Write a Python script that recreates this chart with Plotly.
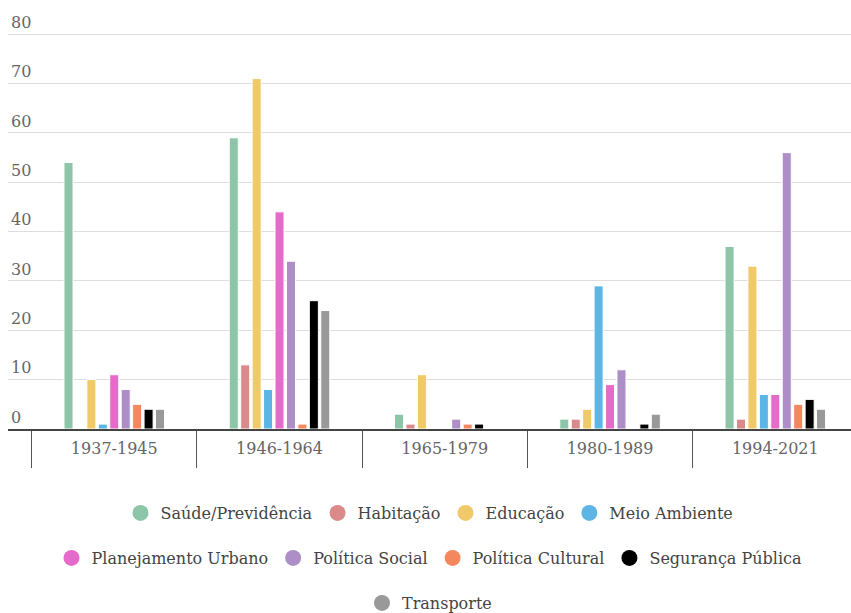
import plotly.graph_objects as go

# Periods on the x axis
periods = ["1937-1945", "1946-1964", "1965-1979", "1980-1989", "1994-2021"]

# Count of items per policy area in each period
saude = [54, 59, 3, 2, 37]
habitacao = [0, 13, 1, 2, 2]
educacao = [10, 71, 11, 4, 33]
meio_ambiente = [1, 8, 0, 29, 7]
planejamento = [11, 44, 0, 9, 7]
politica_social = [8, 34, 2, 12, 56]
politica_cultural = [5, 1, 1, 0, 5]
seguranca = [4, 26, 1, 1, 6]
transporte = [4, 24, 0, 3, 4]

series_names = [
    "Saúde/Previdência", "Habitação", "Educação", "Meio Ambiente",
    "Planejamento Urbano", "Política Social", "Política Cultural",
    "Segurança Pública", "Transporte",
]
series_values = [
    saude, habitacao, educacao, meio_ambiente, planejamento,
    politica_social, politica_cultural, seguranca, transporte,
]
colors = [
    "#8cc5a7", "#da8a8b", "#f0ca68", "#5cb5e5", "#e46bc9",
    "#ad8ec6", "#f4875e", "#000000", "#999999",
]
# legend row for each series
legend_rows = ["legend"] * 4 + ["legend2"] * 4 + ["legend3"]

y_ticks = [0, 10, 20, 30, 40, 50, 60, 70, 80]

FONT = "DejaVu Serif"

fig = go.Figure()
for name, vals, col in zip(series_names, series_values, colors):
    fig.add_trace(go.Bar(
        x=periods, y=vals, name=name,
        marker=dict(color=col, line=dict(color="white", width=1)),
        showlegend=False,
    ))

# circular legend markers
for name, col, lg in zip(series_names, colors, legend_rows):
    fig.add_trace(go.Scatter(
        x=[None], y=[None], mode="markers", name=name,
        marker=dict(color=col, size=20, symbol="circle"),
        legend=lg, showlegend=True,
    ))

# plot area spans y pixels 12..429; legend rows centred at 513, 558, 603
PLOT_TOP, PLOT_BOTTOM = 12, 429
def paper_y(px):
    return (PLOT_BOTTOM - px) / (PLOT_BOTTOM - PLOT_TOP)

legend_common = dict(
    orientation="h", xanchor="center", x=0.5, yanchor="middle",
    font=dict(family=FONT, size=16, color="#444"),
    bgcolor="rgba(0,0,0,0)", itemsizing="trace",
)

fig.update_layout(
    width=851, height=613,
    margin=dict(l=8, r=0, t=PLOT_TOP, b=613 - PLOT_BOTTOM, autoexpand=False),
    paper_bgcolor="white", plot_bgcolor="white",
    barmode="group", bargap=0.377, bargroupgap=0.21,
    font=dict(family=FONT, size=16, color="#666"),
    legend=dict(y=paper_y(513), **legend_common),
    legend2=dict(y=paper_y(558), **legend_common),
    legend3=dict(y=paper_y(603), **legend_common),
    xaxis=dict(
        type="category", range=[-0.643, 4.458],
        showline=True, linecolor="#444", linewidth=2,
        tickson="boundaries", ticks="outside", ticklen=37,
        tickcolor="#555", tickwidth=1,
        ticklabelstandoff=4,
        tickfont=dict(family=FONT, size=16, color="#666"),
        showgrid=False, zeroline=False,
    ),
    yaxis=dict(
        range=[0, 84.5], tickvals=y_ticks,
        showgrid=True, gridcolor="#dddddd", gridwidth=1,
        zeroline=False, showline=False, ticks="",
        ticklabelposition="inside", ticklabelshift=-12,
        tickfont=dict(family=FONT, size=16, color="#666"),
    ),
)

fig.write_html("out.html")
